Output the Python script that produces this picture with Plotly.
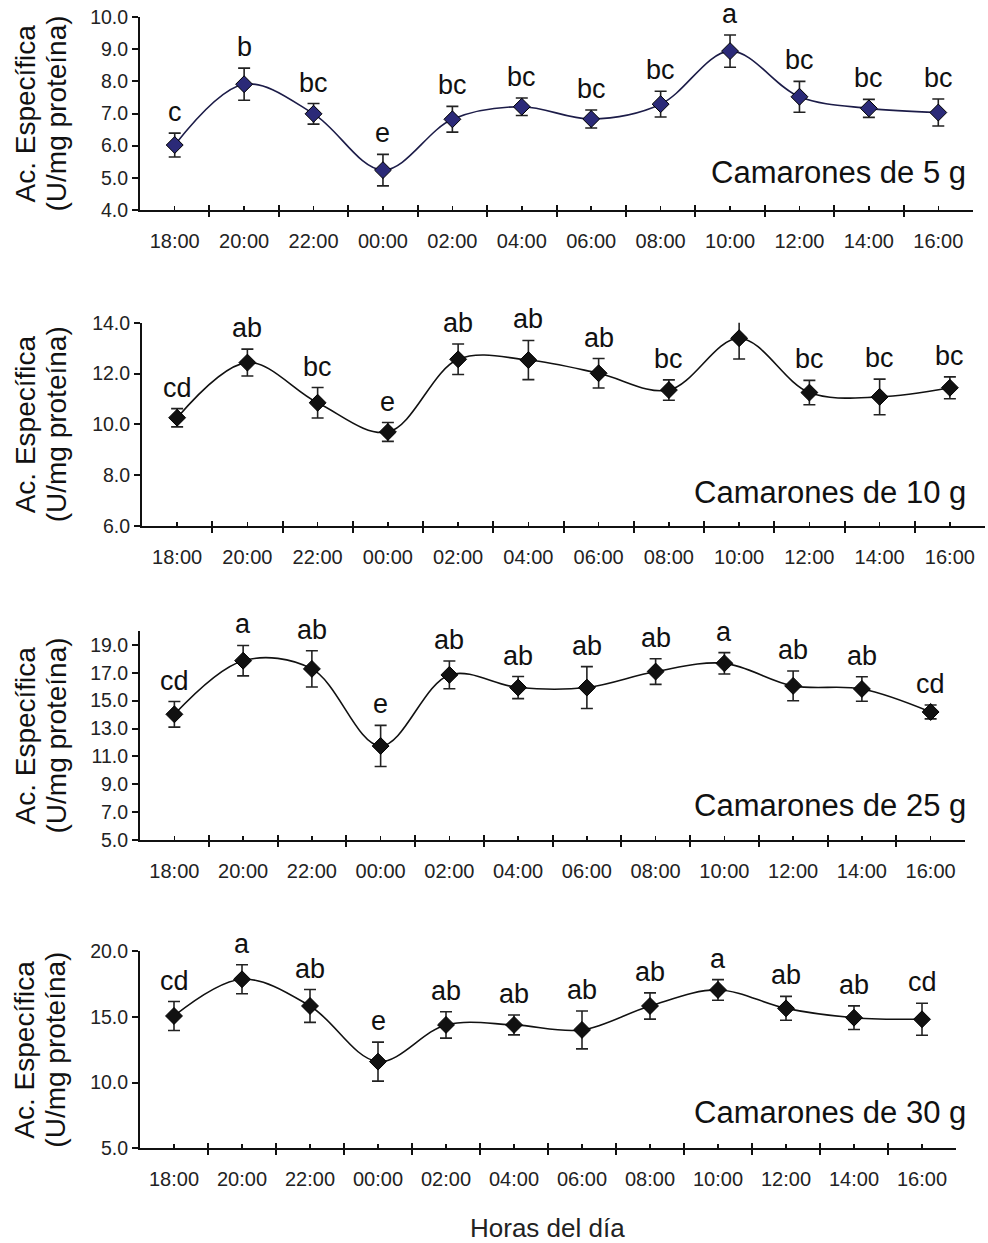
import plotly.graph_objects as go

hours = ["18:00", "20:00", "22:00", "00:00", "02:00", "04:00",
         "06:00", "08:00", "10:00", "12:00", "14:00", "16:00"]

# Camarones de 5 g
mean_5 = [6.02, 7.91, 6.99, 5.24, 6.82, 7.21, 6.83, 7.29, 8.94, 7.52, 7.16, 7.03]
err_5 = [0.37, 0.50, 0.32, 0.49, 0.40, 0.27, 0.28, 0.40, 0.50, 0.48, 0.28, 0.42]
let_5 = ["c", "b", "bc", "e", "bc", "bc", "bc", "bc", "a", "bc", "bc", "bc"]

# Camarones de 10 g
mean_10 = [10.26, 12.43, 10.85, 9.70, 12.56, 12.53, 12.01, 11.35, 13.39, 11.25, 11.08, 11.44]
err_10 = [0.36, 0.53, 0.60, 0.37, 0.60, 0.77, 0.58, 0.40, 0.82, 0.48, 0.70, 0.43]
let_10 = ["cd", "ab", "bc", "e", "ab", "ab", "ab", "bc", "a", "bc", "bc", "bc"]

# Camarones de 25 g
mean_25 = [14.02, 17.87, 17.28, 11.75, 16.85, 15.94, 15.94, 17.09, 17.68, 16.06, 15.84, 14.19]
err_25 = [0.92, 1.09, 1.30, 1.48, 1.00, 0.79, 1.50, 0.92, 0.77, 1.07, 0.88, 0.50]
let_25 = ["cd", "a", "ab", "e", "ab", "ab", "ab", "ab", "a", "ab", "ab", "cd"]

# Camarones de 30 g
mean_30 = [15.06, 17.85, 15.82, 11.59, 14.38, 14.38, 14.00, 15.82, 17.04, 15.64, 14.93, 14.81]
err_30 = [1.10, 1.10, 1.25, 1.48, 1.00, 0.76, 1.44, 1.00, 0.78, 0.91, 0.90, 1.22]
let_30 = ["cd", "a", "ab", "e", "ab", "ab", "ab", "ab", "a", "ab", "ab", "cd"]

titles = ["Camarones de 5 g", "Camarones de 10 g", "Camarones de 25 g", "Camarones de 30 g"]

W, H = 988, 1243
FONT = "Liberation Sans, Arial, sans-serif"


def fx(px):
    return px / W


def fy(py):
    return 1 - py / H


panels = [
    dict(mean=mean_5, err=err_5, let=let_5, title=titles[0],
         px=(140, 973), py=(17, 210), yr=[4, 10], ticks=[4, 5, 6, 7, 8, 9, 10],
         mcolor="#2B2A78", lcolor="#1c1c48", tity=172),
    dict(mean=mean_10, err=err_10, let=let_10, title=titles[1],
         px=(142, 985), py=(322.7, 526), yr=[6, 14], ticks=[6, 8, 10, 12, 14],
         mcolor="#111111", lcolor="#111111", tity=493),
    dict(mean=mean_25, err=err_25, let=let_25, title=titles[2],
         px=(140, 965), py=(631, 840), yr=[5, 20], ticks=[5, 7, 9, 11, 13, 15, 17, 19],
         mcolor="#111111", lcolor="#111111", tity=805),
    dict(mean=mean_30, err=err_30, let=let_30, title=titles[3],
         px=(140, 956), py=(951, 1148.3), yr=[5, 20], ticks=[5, 10, 15, 20],
         mcolor="#111111", lcolor="#111111", tity=1112),
]

xpos = list(range(len(hours)))
bounds = [i - 0.5 for i in range(len(hours) + 1)]

fig = go.Figure()
layout = dict(
    template="none",
    width=W, height=H,
    margin=dict(l=0, r=0, t=0, b=0, pad=0, autoexpand=False),
    paper_bgcolor="white", plot_bgcolor="white",
    showlegend=False,
    font=dict(family=FONT, color="#111111"),
)
annotations = []

for i, p in enumerate(panels):
    n = i + 1
    xa = "x" if n == 1 else f"x{n}"
    ya = "y" if n == 1 else f"y{n}"
    xkey = "xaxis" if n == 1 else f"xaxis{n}"
    ykey = "yaxis" if n == 1 else f"yaxis{n}"
    xdom = [fx(p["px"][0]), fx(p["px"][1])]
    ydom = [fy(p["py"][1]), fy(p["py"][0])]

    fig.add_trace(go.Scatter(
        x=xpos, y=p["mean"], xaxis=xa, yaxis=ya, mode="lines+markers",
        line=dict(color=p["lcolor"], width=1.6, shape="spline", smoothing=1.0),
        marker=dict(symbol="diamond", size=13, color=p["mcolor"],
                    line=dict(color="#000000", width=1)),
        error_y=dict(type="data", array=p["err"], visible=True,
                     color="#222222", thickness=1.6, width=6),
        cliponaxis=False,
    ))

    layout[xkey] = dict(
        domain=xdom, anchor=ya, range=[-0.5, len(hours) - 0.5],
        tickmode="array", tickvals=xpos, ticktext=hours,
        ticks="inside", ticklen=4, tickwidth=1.5, tickcolor="#111111",
        ticklabelstandoff=12, ticklabeloverflow="allow",
        minor=dict(tickmode="array", tickvals=bounds, ticks="outside",
                   ticklen=5, tickwidth=2, tickcolor="#111111"),
        showline=True, linecolor="#111111", linewidth=2,
        showgrid=False, zeroline=False, automargin=False,
        tickfont=dict(size=20, family=FONT, color="#222222"),
        fixedrange=True,
    )
    layout[ykey] = dict(
        domain=ydom, anchor=xa, range=p["yr"],
        tickmode="array", tickvals=p["ticks"],
        ticktext=[f"{t:.1f}" for t in p["ticks"]],
        ticks="outside", ticklen=6, tickwidth=2, tickcolor="#111111",
        ticklabeloverflow="allow",
        showline=True, linecolor="#111111", linewidth=2,
        showgrid=False, zeroline=False, automargin=False,
        tickfont=dict(size=19.5, family=FONT, color="#222222"),
        fixedrange=True,
    )
    # overlay axis for the inner half of the crossing boundary ticks
    okey = f"xaxis{n + 4}"
    layout[okey] = dict(
        overlaying=xa, anchor=ya, range=[-0.5, len(hours) - 0.5],
        tickmode="array", tickvals=bounds, ticks="inside", ticklen=5,
        tickwidth=2, tickcolor="#111111", showticklabels=False,
        showline=False, showgrid=False, zeroline=False, side="bottom",
        automargin=False, fixedrange=True,
    )
    fig.add_trace(go.Scatter(x=[None], y=[None], xaxis=f"x{n + 4}", yaxis=ya,
                             mode="markers", hoverinfo="skip", showlegend=False))

    # significance letters
    for xv, m, e, t in zip(xpos, p["mean"], p["err"], p["let"]):
        annotations.append(dict(
            x=xv, y=m + e, xref=xa, yref=ya, text=t, showarrow=False,
            yanchor="bottom", xanchor="center", yshift=4,
            font=dict(size=27, family=FONT, color="#111111"),
        ))
    # panel title
    annotations.append(dict(
        x=fx(968), y=fy(p["tity"]), xref="paper", yref="paper",
        text=p["title"], showarrow=False, xanchor="right", yanchor="middle",
        font=dict(size=31, family=FONT, color="#111111"),
    ))
    # y-axis title (two lines)
    annotations.append(dict(
        x=fx(25), y=0.5, xref="paper", yref=f"{ya} domain",
        text="Ac. Específica", showarrow=False, textangle=-90,
        xanchor="center", yanchor="middle",
        font=dict(size=28, family=FONT, color="#111111"),
    ))
    annotations.append(dict(
        x=fx(56), y=0.5, xref="paper", yref=f"{ya} domain",
        text="(U/mg proteína)", showarrow=False, textangle=-90,
        xanchor="center", yanchor="middle",
        font=dict(size=28, family=FONT, color="#111111"),
    ))

annotations.append(dict(
    x=fx(547), y=fy(1228), xref="paper", yref="paper",
    text="Horas del día", showarrow=False, xanchor="center", yanchor="middle",
    font=dict(size=26, family=FONT, color="#222222"),
))

layout["annotations"] = annotations
fig.update_layout(**layout)
fig.write_html(
    "out.html",
    config={"displayModeBar": False, "staticPlot": True},
    post_script="document.body.style.margin='0';document.body.style.overflow='hidden';",
)
